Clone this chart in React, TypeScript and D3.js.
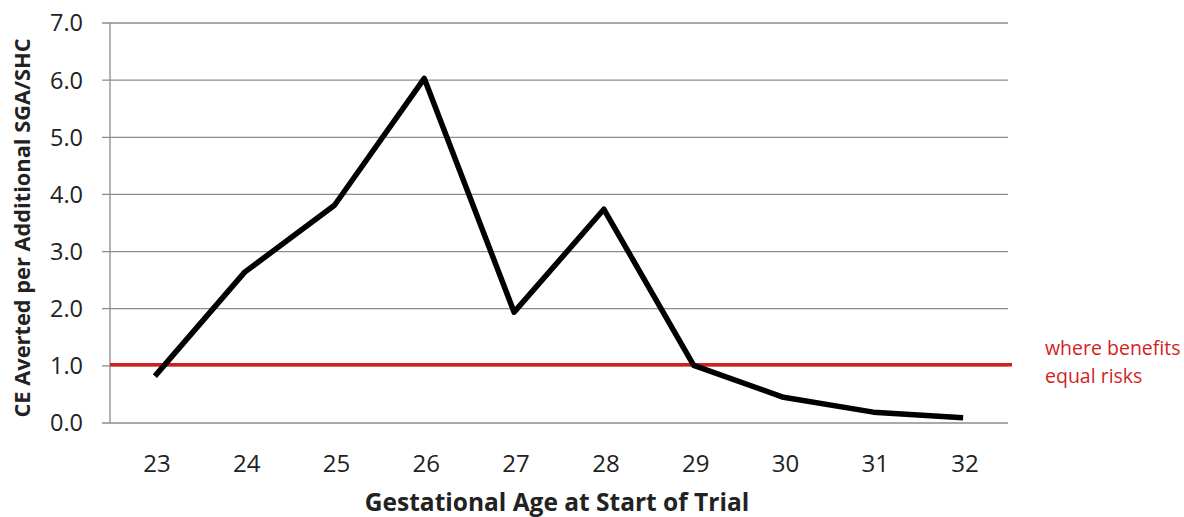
import React, { useEffect, useRef } from 'react';
import * as d3 from 'd3';

// gestational age categories and values
const ages = ['23', '24', '25', '26', '27', '28', '29', '30', '31', '32'];
const ceAverted = [0.82, 2.64, 3.81, 6.03, 1.94, 3.74, 1.01, 0.45, 0.19, 0.09];
const yTicks = [0, 1, 2, 3, 4, 5, 6, 7];
const thresholdValue = 1.02;
const thresholdLabel = ['where benefits', 'equal risks'];

const App = () => {
  const svgRef = useRef<SVGSVGElement>(null);

  useEffect(() => {
    const svg = d3.select(svgRef.current);
    svg.selectAll('*').remove();

    const width = 1184;
    const height = 517;
    const margin = { top: 23, right: 176, bottom: 94, left: 110 };
    const font = '"Open Sans", sans-serif';

    svg.attr('width', width).attr('height', height);

    const x = d3.scaleBand()
      .domain(ages)
      .range([margin.left, width - margin.right]);

    const y = d3.scaleLinear()
      .domain([0, 7])
      .range([height - margin.bottom, margin.top]);

    // gridlines + y ticks
    const grid = svg.append('g');
    grid.selectAll('line.grid')
      .data(yTicks)
      .enter().append('line')
      .attr('x1', margin.left - 8)
      .attr('x2', width - margin.right)
      .attr('y1', d => y(d))
      .attr('y2', d => y(d))
      .attr('stroke', '#8c8c8c')
      .attr('stroke-width', 1.3);

    grid.selectAll('text')
      .data(yTicks)
      .enter().append('text')
      .attr('x', margin.left - 27)
      .attr('y', d => y(d))
      .attr('dy', '0.36em')
      .attr('text-anchor', 'end')
      .attr('font-family', font)
      .attr('font-size', 23.5)
      .attr('fill', '#222')
      .text(d => d.toFixed(1));

    // y axis line
    svg.append('line')
      .attr('x1', margin.left).attr('x2', margin.left)
      .attr('y1', y(7)).attr('y2', y(0))
      .attr('stroke', '#8c8c8c')
      .attr('stroke-width', 1.3);

    // x tick labels
    svg.append('g').selectAll('text')
      .data(ages)
      .enter().append('text')
      .attr('x', d => (x(d) || 0) + x.bandwidth() / 2 + 2)
      .attr('y', 472)
      .attr('text-anchor', 'middle')
      .attr('font-family', font)
      .attr('font-size', 24)
      .attr('fill', '#222')
      .text(d => d);

    // threshold line
    svg.append('line')
      .attr('x1', margin.left)
      .attr('x2', width - margin.right + 4)
      .attr('y1', y(thresholdValue))
      .attr('y2', y(thresholdValue))
      .attr('stroke', '#d21f1f')
      .attr('stroke-width', 3.5);

    svg.append('g').selectAll('text')
      .data(thresholdLabel)
      .enter().append('text')
      .attr('x', 1045)
      .attr('y', (d, i) => 355 + i * 28)
      .attr('font-family', font)
      .attr('font-size', 19.5)
      .attr('fill', '#d21f1f')
      .text(d => d);

    // data line
    const line = d3.line<number>()
      .x((d, i) => (x(ages[i]) || 0) + x.bandwidth() / 2)
      .y(d => y(d));

    svg.append('path')
      .datum(ceAverted)
      .attr('d', line)
      .attr('fill', 'none')
      .attr('stroke', '#000')
      .attr('stroke-width', 5.5)
      .attr('stroke-linejoin', 'round');

    // axis titles
    svg.append('text')
      .attr('x', 557)
      .attr('y', 511)
      .attr('text-anchor', 'middle')
      .attr('font-family', font)
      .attr('font-size', 24.5)
      .attr('font-weight', 'bold')
      .attr('fill', '#222')
      .text('Gestational Age at Start of Trial');

    svg.append('text')
      .attr('transform', `translate(30,228) rotate(-90)`)
      .attr('text-anchor', 'middle')
      .attr('font-family', font)
      .attr('font-size', 21.8)
      .attr('font-weight', 'bold')
      .attr('fill', '#222')
      .text('CE Averted per Additional SGA/SHC');
  }, []);

  return <svg ref={svgRef} style={{ position: 'absolute', left: 0, top: 0 }}></svg>;
};

export default App;
